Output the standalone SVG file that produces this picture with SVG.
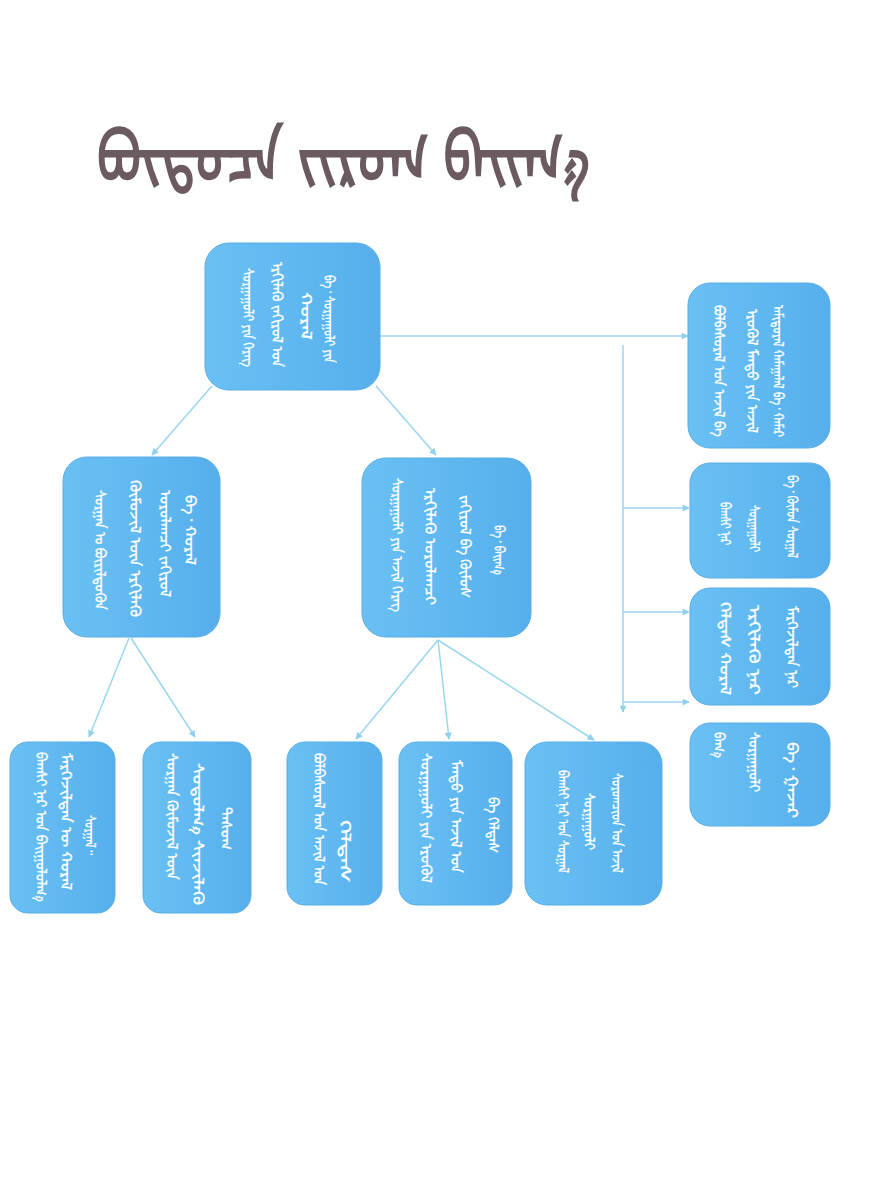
<svg xmlns="http://www.w3.org/2000/svg" width="872" height="1200" viewBox="0 0 872 1200">
<defs>
<linearGradient id="bx" x1="0" y1="0" x2="1" y2="0">
<stop offset="0" stop-color="#6ac0f3"/>
<stop offset="0.5" stop-color="#60b8f0"/>
<stop offset="1" stop-color="#56afeb"/>
</linearGradient>
<marker id="ah" viewBox="0 0 10 10" refX="9" refY="5" markerWidth="8" markerHeight="7" orient="auto" markerUnits="userSpaceOnUse">
<path d="M0,0 L10,5 L0,10 z" fill="#8fd0ee"/>
</marker>
</defs>
<style>
.box{fill:url(#bx);stroke:#58ade6;stroke-width:1}
.m{font-family:"Noto Sans Mongolian","Mongolian Baiti","Noto Sans",sans-serif;font-size:15px;fill:#ffffff;stroke:#ffffff;stroke-width:0.3}
.t{font-family:"Noto Sans Mongolian","Mongolian Baiti","Noto Sans",sans-serif;font-size:70px;fill:#6b5b60;stroke:#6b5b60;stroke-width:2}
.c{stroke:#9ad6ef;stroke-width:1.5;fill:none}
</style>
<rect width="872" height="1200" fill="#ffffff"/>
<g id="title">
<text class="t" x="97" y="182" textLength="493" lengthAdjust="spacingAndGlyphs">ᠪᠦᠲᠦᠴᠡ ᠵᠢᠷᠤᠭ ᠪᠠᠢᠭ᠎ᠠ</text>
</g>
<g id="connectors">
<line class="c" x1="380" y1="336" x2="688" y2="336" marker-end="url(#ah)"/>
<line class="c" x1="623" y1="345" x2="623" y2="712" marker-end="url(#ah)"/>
<line class="c" x1="623" y1="508" x2="689" y2="508" marker-end="url(#ah)"/>
<line class="c" x1="623" y1="612" x2="689" y2="612" marker-end="url(#ah)"/>
<line class="c" x1="623" y1="702" x2="689" y2="702" marker-end="url(#ah)"/>
<line class="c" x1="212" y1="386" x2="152" y2="455" marker-end="url(#ah)"/>
<line class="c" x1="376" y1="386" x2="436" y2="455" marker-end="url(#ah)"/>
<line class="c" x1="129" y1="638" x2="89" y2="737" marker-end="url(#ah)"/>
<line class="c" x1="131" y1="638" x2="195" y2="737" marker-end="url(#ah)"/>
<line class="c" x1="438" y1="640" x2="356" y2="739" marker-end="url(#ah)"/>
<line class="c" x1="438" y1="640" x2="449" y2="739" marker-end="url(#ah)"/>
<line class="c" x1="438" y1="640" x2="594" y2="740" marker-end="url(#ah)"/>
</g>
<g id="n-top">
<rect class="box" x="205" y="243" width="175" height="147" rx="24"/>
<text class="m" transform="translate(243 268) rotate(90)" textLength="99" lengthAdjust="spacingAndGlyphs">ᠰᠤᠷᠭᠠᠭᠤᠯᠢ ᠶᠢᠨ ᠬᠡᠷᠡᠭ</text>
<text class="m" transform="translate(272 262) rotate(90)" textLength="105" lengthAdjust="spacingAndGlyphs">ᠡᠷᠬᠢᠯᠡᠬᠦ ᠵᠠᠬᠢᠷᠤᠯ ᠤᠨ</text>
<text class="m" transform="translate(301 292) rotate(90)" textLength="48" lengthAdjust="spacingAndGlyphs">ᠬᠤᠷᠠᠯ</text>
<text class="m" transform="translate(324 275) rotate(90)" textLength="88" lengthAdjust="spacingAndGlyphs">ᠪᠠ᠂ ᠰᠤᠷᠭᠠᠭᠤᠯᠢ ᠶᠢᠨ</text>
</g>
<g id="n-ml">
<rect class="box" x="63" y="457" width="157" height="180" rx="24"/>
<text class="m" transform="translate(95 490) rotate(90)" textLength="120" lengthAdjust="spacingAndGlyphs">ᠰᠤᠷᠭᠠᠨ ᠤ ᠪᠦᠷᠢᠯᠳᠦᠬᠦᠨ</text>
<text class="m" transform="translate(130 480) rotate(90)" textLength="137" lengthAdjust="spacingAndGlyphs">ᠬᠦᠮᠦᠵᠢᠯ ᠦᠨ ᠡᠷᠬᠢᠯᠡᠬᠦ</text>
<text class="m" transform="translate(160 490) rotate(90)" textLength="107" lengthAdjust="spacingAndGlyphs">ᠣᠷᠤᠯᠠᠭᠴᠢ ᠵᠠᠬᠢᠷᠤᠯ</text>
<text class="m" transform="translate(185 495) rotate(90)" textLength="70" lengthAdjust="spacingAndGlyphs">ᠪᠠ᠂ ᠬᠤᠷᠠᠯ</text>
</g>
<g id="n-mr">
<rect class="box" x="362" y="458" width="169" height="179" rx="24"/>
<text class="m" transform="translate(392 478) rotate(90)" textLength="134" lengthAdjust="spacingAndGlyphs">ᠰᠤᠷᠭᠠᠭᠤᠯᠢ ᠶᠢᠨ ᠠᠵᠢᠯ ᠬᠡᠷᠡᠭ</text>
<text class="m" transform="translate(425 488) rotate(90)" textLength="117" lengthAdjust="spacingAndGlyphs">ᠡᠷᠬᠢᠯᠡᠬᠦ ᠣᠷᠤᠯᠠᠭᠴᠢ</text>
<text class="m" transform="translate(460 495) rotate(90)" textLength="103" lengthAdjust="spacingAndGlyphs">ᠵᠠᠬᠢᠷᠤᠯ ᠪᠠ ᠬᠦᠮᠦᠰ</text>
<text class="m" transform="translate(494 525) rotate(90)" textLength="50" lengthAdjust="spacingAndGlyphs">ᠪᠠ᠂ ᠪᠠᠢᠭ᠎ᠠ</text>
</g>
<g id="n-b1">
<rect class="box" x="10" y="742" width="105" height="171" rx="18"/>
<text class="m" transform="translate(36 752) rotate(90)" textLength="150" lengthAdjust="spacingAndGlyphs">ᠪᠠᠭᠰᠢ ᠨᠠᠷ ᠤᠨ ᠪᠠᠢᠭᠤᠯᠤᠯᠭ᠎ᠠ</text>
<text class="m" transform="translate(61 753) rotate(90)" textLength="137" lengthAdjust="spacingAndGlyphs">ᠮᠡᠷᠭᠡᠵᠢᠯᠲᠡᠨ ᠦ ᠬᠤᠷᠠᠯ</text>
<text class="m" transform="translate(85 815) rotate(90)" textLength="40" lengthAdjust="spacingAndGlyphs">ᠰᠤᠷᠭᠠᠯ᠃</text>
</g>
<g id="n-b2">
<rect class="box" x="143" y="742" width="108" height="171" rx="18"/>
<text class="m" transform="translate(167 753) rotate(90)" textLength="127" lengthAdjust="spacingAndGlyphs">ᠰᠤᠷᠭᠠᠨ ᠬᠦᠮᠦᠵᠢᠯ ᠦᠨ</text>
<text class="m" transform="translate(193 763) rotate(90)" textLength="142" lengthAdjust="spacingAndGlyphs">ᠰᠤᠳᠤᠯᠭ᠎ᠠ ᠰᠢᠨᠵᠢᠯᠡᠬᠦ</text>
<text class="m" transform="translate(221 807) rotate(90)" textLength="43" lengthAdjust="spacingAndGlyphs">ᠲᠠᠰᠤᠭ</text>
</g>
<g id="n-b3">
<rect class="box" x="287" y="742" width="95" height="163" rx="18"/>
<text class="m" transform="translate(314 753) rotate(90)" textLength="132" lengthAdjust="spacingAndGlyphs">ᠪᠣᠯᠪᠠᠰᠤᠷᠠᠯ ᠤᠨ ᠠᠵᠢᠯ ᠤᠨ</text>
<text class="m" transform="translate(340 820) rotate(90)" textLength="63" lengthAdjust="spacingAndGlyphs">ᠬᠡᠯᠲᠡᠰ</text>
</g>
<g id="n-b4">
<rect class="box" x="399" y="742" width="113" height="163" rx="18"/>
<text class="m" transform="translate(421 753) rotate(90)" textLength="130" lengthAdjust="spacingAndGlyphs">ᠰᠤᠷᠭᠠᠭᠤᠯᠢ ᠶᠢᠨ ᠡᠷᠦᠭᠦᠯ</text>
<text class="m" transform="translate(451 760) rotate(90)" textLength="113" lengthAdjust="spacingAndGlyphs">ᠮᠡᠨᠳᠦ ᠶᠢᠨ ᠠᠵᠢᠯ ᠤᠨ</text>
<text class="m" transform="translate(488 797) rotate(90)" textLength="56" lengthAdjust="spacingAndGlyphs">ᠪᠠ ᠬᠡᠯᠲᠡᠰ</text>
</g>
<g id="n-b5">
<rect class="box" x="525" y="742" width="137" height="163" rx="22"/>
<text class="m" transform="translate(558 770) rotate(90)" textLength="103" lengthAdjust="spacingAndGlyphs">ᠪᠠᠭᠰᠢ ᠨᠠᠷ ᠤᠨ ᠰᠤᠷᠭᠠᠯ</text>
<text class="m" transform="translate(584 793) rotate(90)" textLength="57" lengthAdjust="spacingAndGlyphs">ᠰᠤᠷᠭᠠᠭᠤᠯᠢ</text>
<text class="m" transform="translate(612 773) rotate(90)" textLength="100" lengthAdjust="spacingAndGlyphs">ᠰᠤᠷᠤᠭᠴᠢᠳ ᠤᠨ ᠠᠵᠢᠯ</text>
</g>
<g id="n-r1">
<rect class="box" x="688" y="283" width="142" height="165" rx="22"/>
<text class="m" transform="translate(714 305) rotate(90)" textLength="132" lengthAdjust="spacingAndGlyphs">ᠪᠣᠯᠪᠠᠰᠤᠷᠠᠯ ᠤᠨ ᠠᠵᠢᠯ ᠪᠠ</text>
<text class="m" transform="translate(747 309) rotate(90)" textLength="124" lengthAdjust="spacingAndGlyphs">ᠡᠷᠦᠭᠦᠯ ᠮᠡᠨᠳᠦ ᠶᠢᠨ ᠠᠵᠢᠯ</text>
<text class="m" transform="translate(773 305) rotate(90)" textLength="132" lengthAdjust="spacingAndGlyphs">ᠠᠮᠢᠳᠤᠷᠠᠯ ᠬᠠᠮᠠᠭᠠᠯᠠᠯ ᠪᠠ᠂ ᠬᠠᠮᠠᠷ</text>
</g>
<g id="n-r2">
<rect class="box" x="690" y="463" width="140" height="115" rx="20"/>
<text class="m" transform="translate(720 502) rotate(90)" textLength="43" lengthAdjust="spacingAndGlyphs">ᠪᠠᠭᠰᠢ ᠨᠠᠷ</text>
<text class="m" transform="translate(749 505) rotate(90)" textLength="47" lengthAdjust="spacingAndGlyphs">ᠰᠤᠷᠭᠠᠭᠤᠯᠢ</text>
<text class="m" transform="translate(787 475) rotate(90)" textLength="83" lengthAdjust="spacingAndGlyphs">ᠪᠠ᠂ ᠬᠦᠮᠦᠨ ᠰᠤᠷᠭᠠᠯ</text>
</g>
<g id="n-r3">
<rect class="box" x="690" y="588" width="140" height="117" rx="20"/>
<text class="m" transform="translate(720 602) rotate(90)" textLength="93" lengthAdjust="spacingAndGlyphs">ᠬᠡᠯᠲᠡᠰ ᠬᠤᠷᠠᠯ</text>
<text class="m" transform="translate(749 605) rotate(90)" textLength="90" lengthAdjust="spacingAndGlyphs">ᠡᠷᠬᠢᠯᠡᠬᠦ ᠨᠠᠷ</text>
<text class="m" transform="translate(787 606) rotate(90)" textLength="82" lengthAdjust="spacingAndGlyphs">ᠮᠡᠷᠭᠡᠵᠢᠯᠲᠡᠨ ᠨᠠᠷ</text>
</g>
<g id="n-r4">
<rect class="box" x="690" y="723" width="140" height="103" rx="20"/>
<text class="m" transform="translate(714 732) rotate(90)" textLength="26" lengthAdjust="spacingAndGlyphs">ᠪᠠᠭ᠎ᠠ</text>
<text class="m" transform="translate(749 732) rotate(90)" textLength="60" lengthAdjust="spacingAndGlyphs">ᠰᠤᠷᠭᠠᠭᠤᠯᠢ</text>
<text class="m" transform="translate(787 742) rotate(90)" textLength="76" lengthAdjust="spacingAndGlyphs">ᠪᠠ᠂ ᠭᠠᠵᠠᠷ</text>
</g>
</svg>
